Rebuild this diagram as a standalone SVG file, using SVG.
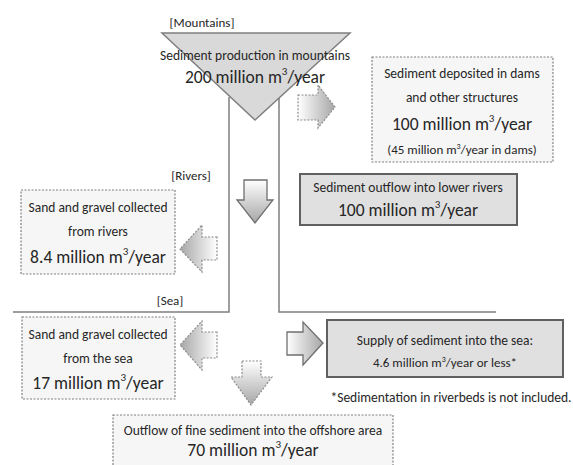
<svg xmlns="http://www.w3.org/2000/svg" width="573" height="465" viewBox="0 0 573 465">
<defs>
<linearGradient id="gh" x1="0" y1="0" x2="1" y2="0"><stop offset="0" stop-color="#ffffff"/><stop offset="1" stop-color="#a6a6a6"/></linearGradient>
<linearGradient id="ghr" x1="1" y1="0" x2="0" y2="0"><stop offset="0" stop-color="#ffffff"/><stop offset="1" stop-color="#a6a6a6"/></linearGradient>
<linearGradient id="gv" x1="0" y1="0" x2="0" y2="1"><stop offset="0" stop-color="#ffffff"/><stop offset="1" stop-color="#a6a6a6"/></linearGradient>
<style>
text{font-family:Carlito,"Liberation Sans Narrow","DejaVu Sans Condensed","Liberation Sans",sans-serif;fill:#262626;text-anchor:middle}
.s{font-size:13.5px}.l{font-size:17.5px}.m{font-size:13px}.lab{font-size:13px}
.dot{fill:#f6f6f6;stroke:#808080;stroke-width:1.2;stroke-dasharray:2 1.5}
.solid{fill:#e0e0e0;stroke:#606060;stroke-width:2}
.ln{fill:none;stroke:#7f7f7f;stroke-width:1.5}
.adot{stroke:#8c8c8c;stroke-width:1.2;stroke-dasharray:2 1.5}
.asol{stroke:#6f6f6f;stroke-width:1.3}
</style>
</defs>
<text class="lab" x="202" y="27">[Mountains]</text>
<text class="lab" x="191" y="180">[Rivers]</text>
<text class="lab" x="170" y="305">[Sea]</text>
<g id="connectors">
<path class="ln" d="M229 97 V312 H13"/>
<path class="ln" d="M279 97 V312 H496"/>
<path class="adot" fill="url(#gh)" d="M298 95 H318 V85 L335 107 L318 128 V120 H298 Z"/>
<path class="asol" fill="url(#gv)" d="M244 180 H267 V200 H273 L255 223 L237 200 H244 Z"/>
<path class="adot" fill="url(#ghr)" d="M217 237 H202 V225 L180 249 L202 272 V260 H217 Z"/>
<path class="adot" fill="url(#ghr)" d="M217 332 H202 V321 L180 345 L202 370 V358 H217 Z"/>
<path class="adot" fill="url(#gv)" d="M242 361 H261 V377 H272 L251 405 L231 377 H242 Z"/>
<path class="asol" fill="url(#gh)" d="M287 332 H303 V322 L323 343 L303 365 V355 H287 Z"/>
</g>
<g id="mountains">
<path d="M162 33 H350 L255 120 Z" fill="#d9d9d9" stroke="#7f7f7f" stroke-width="1.5"/>
<text class="s" x="255" y="60">Sediment production in mountains</text>
<text class="l" x="255" y="83">200 million m<tspan font-size="11" dy="-8">3</tspan><tspan dy="8">/year</tspan></text>
</g>
<g id="dams">
<rect class="dot" x="372" y="57" width="181" height="105"/>
<text class="s" x="462" y="78">Sediment deposited in dams</text>
<text class="s" x="462" y="102">and other structures</text>
<text class="l" x="462" y="130">100 million m<tspan font-size="11" dy="-8">3</tspan><tspan dy="8">/year</tspan></text>
<text class="m" x="462" y="154">(45 million m<tspan font-size="8" dy="-5">3</tspan><tspan dy="5">/year in dams)</tspan></text>
</g>
<g id="lower-rivers">
<rect class="solid" x="300" y="174" width="217" height="51"/>
<text class="s" x="408" y="192">Sediment outflow into lower rivers</text>
<text class="l" x="408" y="216">100 million m<tspan font-size="11" dy="-8">3</tspan><tspan dy="8">/year</tspan></text>
</g>
<g id="rivers-gravel">
<rect class="dot" x="21" y="190" width="154" height="84"/>
<text class="s" x="98" y="212">Sand and gravel collected</text>
<text class="s" x="98" y="236">from rivers</text>
<text class="l" x="98" y="263">8.4 million m<tspan font-size="11" dy="-8">3</tspan><tspan dy="8">/year</tspan></text>
</g>
<g id="sea-gravel">
<rect class="dot" x="22" y="317" width="153" height="82"/>
<text class="s" x="98" y="339">Sand and gravel collected</text>
<text class="s" x="98" y="363">from the sea</text>
<text class="l" x="98" y="389">17 million m<tspan font-size="11" dy="-8">3</tspan><tspan dy="8">/year</tspan></text>
</g>
<g id="sea-supply">
<rect class="solid" x="327" y="320" width="236" height="57"/>
<text class="s" x="445" y="345">Supply of sediment into the sea:</text>
<text class="m" x="445" y="367">4.6 million m<tspan font-size="8" dy="-5">3</tspan><tspan dy="5">/year or less*</tspan></text>
</g>
<text class="s" x="451" y="402">*Sedimentation in riverbeds is not included.</text>
<g id="offshore">
<rect class="dot" x="113" y="415" width="280" height="60"/>
<text class="s" x="253" y="435">Outflow of fine sediment into the offshore area</text>
<text class="l" x="253" y="456">70 million m<tspan font-size="11" dy="-8">3</tspan><tspan dy="8">/year</tspan></text>
</g>
</svg>
